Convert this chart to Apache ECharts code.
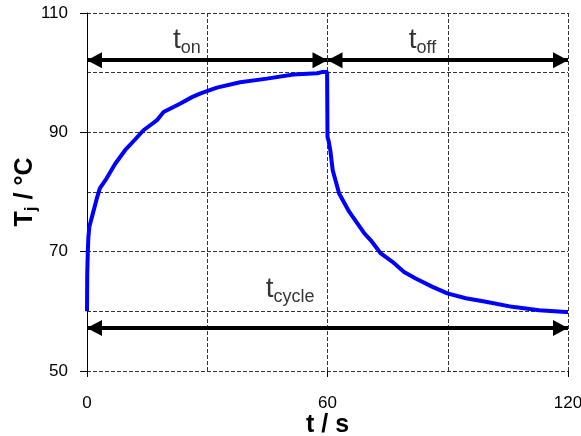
<!DOCTYPE html>
<html><head><meta charset="utf-8">
<script src="https://cdn.jsdelivr.net/npm/echarts@6/dist/echarts.min.js"></script>
<style>html,body{margin:0;padding:0;background:#fff}#c{width:581px;height:436px}</style>
</head><body><div id="c"></div>
<script>
// Junction temperature curve: heating phase (t_on) and cooling phase (t_off)
const heatTime = [0, 0.05, 0.2, 0.35, 0.6, 1.5, 2.4, 3.2, 4.9, 7, 9.5, 12, 14.1, 17.4, 19.1, 23.2, 26.2, 28.2, 32.4, 38.2, 44.9, 51.5, 57.4, 58.6, 59.9];
const heatTemp = [60, 66, 70, 72.5, 74.2, 76.5, 78.8, 80.6, 82.3, 84.7, 87, 88.8, 90.35, 92, 93.4, 94.8, 95.9, 96.5, 97.5, 98.4, 99.0, 99.7, 99.9, 100.1, 100.1];
const coolTime = [60.0, 60.3, 60.7, 61.3, 62.9, 65.4, 69.2, 70.8, 73.3, 76.2, 79.1, 82, 86.2, 89.9, 94.5, 99.5, 106.1, 112.8, 119.5, 120];
const coolTemp = [89.2, 88.5, 87.0, 83.65, 79.75, 76.7, 73.05, 71.9, 69.7, 68.3, 66.6, 65.5, 64.1, 63.0, 62.2, 61.6, 60.75, 60.2, 59.9, 59.9];

// axis ticks
const xLabelTicks = [0, 60, 120];
const yLabelTicks = [50, 70, 90, 110];

// dimension arrows (start time, end time, level) and labels
const arrowStart = [0, 60, 0];
const arrowEnd = [60, 120, 120];
const arrowLevel = [102.1, 102.1, 57.2];
const labelSub = ['on', 'off', 'cycle'];
const labelTime = [24.9, 83.7, 50.7];
const labelTemp = [105.4, 105.4, 63.7];

const curve = heatTime.map((t, i) => [t, heatTemp[i]]).concat(coolTime.map((t, i) => [t, coolTemp[i]]));
const gridDash = {color: '#333', width: 1, type: [4, 2]};

const chart = echarts.init(document.getElementById('c'), null, {renderer: 'canvas'});
chart.setOption({
  animation: false,
  textStyle: {fontFamily: 'Liberation Sans, Arial, sans-serif'},
  grid: {left: 87, right: 13, top: 13, bottom: 65, containLabel: false, outerBoundsMode: 'none'},
  xAxis: [{
    type: 'value', min: xLabelTicks[0], max: xLabelTicks[xLabelTicks.length - 1], interval: xLabelTicks[1] - xLabelTicks[0],
    axisLine: {show: false},
    axisTick: {show: true, length: 6, lineStyle: {color: '#000'}},
    axisLabel: {fontSize: 17, color: '#000', margin: 24},
    splitLine: {show: false},
    name: 't / s', nameLocation: 'middle', nameGap: 42, nameMoveOverlap: false,
    nameTextStyle: {fontSize: 25, fontWeight: 'bold', color: '#000'}
  }, {
    type: 'value', min: 0, max: 120, interval: 30, position: 'bottom',
    axisLine: {show: false}, axisTick: {show: false}, axisLabel: {show: false},
    splitLine: {show: true, lineStyle: gridDash}
  }],
  yAxis: [{
    type: 'value', min: yLabelTicks[0], max: yLabelTicks[yLabelTicks.length - 1], interval: yLabelTicks[1] - yLabelTicks[0],
    axisLine: {show: true, lineStyle: {color: '#000', width: 1}},
    axisTick: {show: true, length: 7, lineStyle: {color: '#000'}},
    axisLabel: {fontSize: 17, color: '#000', margin: 19},
    splitLine: {show: false},
    name: '{a|T}{b|j}{a| / °C}', nameLocation: 'middle', nameGap: 47, nameRotate: 90, nameMoveOverlap: false,
    nameTextStyle: {
      color: '#000',
      rich: {
        a: {fontSize: 25, fontWeight: 'bold', lineHeight: 30, verticalAlign: 'middle', color: '#000'},
        b: {fontSize: 17, fontWeight: 'bold', lineHeight: 17, verticalAlign: 'bottom', color: '#000'}
      }
    }
  }, {
    type: 'value', min: 50, max: 110, interval: 10, position: 'left',
    axisLine: {show: false}, axisTick: {show: false}, axisLabel: {show: false},
    splitLine: {show: true, lineStyle: gridDash}
  }],
  series: [{
    type: 'line', xAxisIndex: 0, yAxisIndex: 0,
    data: curve, showSymbol: false, symbol: 'none',
    lineStyle: {color: '#0000ff', width: 4}, z: 3,
    markLine: {
      silent: true, animation: false,
      symbol: ['triangle', 'triangle'], symbolSize: [16, 15], symbolOffset: [[0, 7.5], [0, 7.5]],
      lineStyle: {color: '#000', width: 4, type: 'solid'},
      itemStyle: {color: '#000'},
      label: {show: false},
      data: arrowStart.map((s, i) => [{coord: [s, arrowLevel[i]]}, {coord: [arrowEnd[i], arrowLevel[i]]}])
    }
  }, {
    type: 'scatter', xAxisIndex: 0, yAxisIndex: 0,
    data: labelTime.map((t, i) => [t, labelTemp[i]]),
    symbolSize: 1, itemStyle: {color: 'rgba(0,0,0,0)'}, silent: true,
    label: {
      show: true, position: 'inside',
      formatter: p => '{t|t}{s|' + labelSub[p.dataIndex] + '}',
      rich: {
        t: {fontSize: 28, lineHeight: 34, verticalAlign: 'middle', color: '#000'},
        s: {fontSize: 18, lineHeight: 18, verticalAlign: 'bottom', color: '#000'}
      }
    }
  }]
});
</script>
</body></html>
